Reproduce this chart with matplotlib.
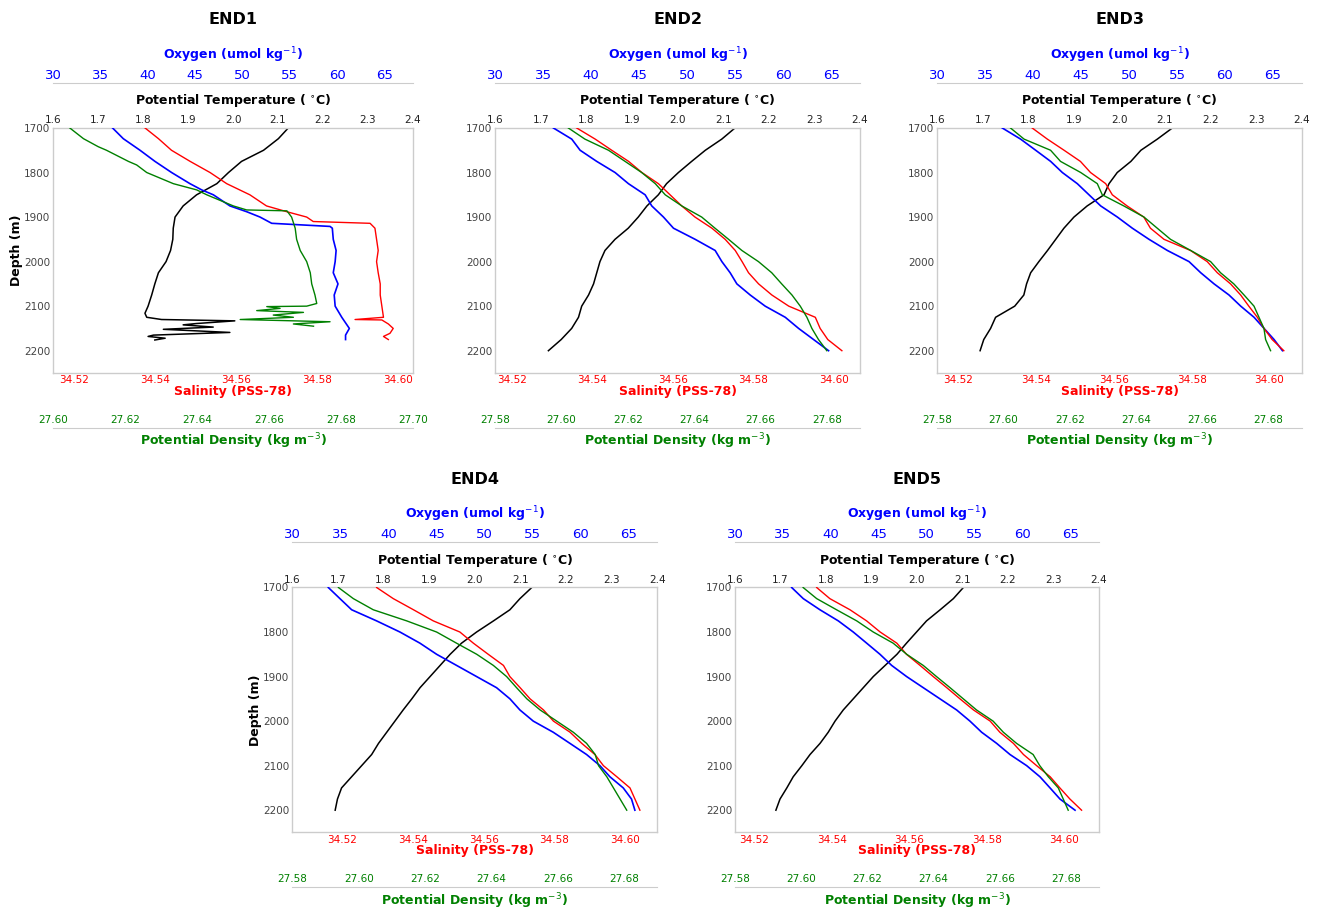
import matplotlib.pyplot as plt
from matplotlib import transforms

# ---- CTD profiles, depth in m ----
depth_grid = [1700, 1725, 1750, 1775, 1800, 1825, 1850, 1875, 1900, 1925, 1950,
              1975, 2000, 2025, 2050, 2075, 2100, 2125, 2150, 2175, 2200]

# END1 (irregular sampling near the bottom)
end1_temp_z = [1700, 1724, 1750, 1775, 1800, 1825, 1850, 1875, 1900, 1925, 1950, 1975, 2000,
               2025, 2050, 2075, 2100, 2116, 2125, 2130, 2133, 2139, 2142, 2147, 2152, 2159,
               2165, 2168, 2172, 2176]
end1_temp = [2.123, 2.101, 2.068, 2.019, 1.990, 1.964, 1.919, 1.889, 1.871, 1.867, 1.866, 1.861,
             1.851, 1.834, 1.826, 1.819, 1.811, 1.804, 1.808, 1.841, 2.004, 1.919, 1.889, 1.956,
             1.845, 1.993, 1.823, 1.811, 1.849, 1.826]
end1_oxy_z = [1700, 1724, 1750, 1775, 1800, 1825, 1839, 1850, 1875, 1888, 1900, 1914, 1921,
              1925, 1950, 1975, 2000, 2025, 2050, 2075, 2100, 2125, 2150, 2165, 2175]
end1_oxy = [36.27, 37.40, 39.17, 40.75, 42.51, 44.45, 45.69, 46.92, 48.68, 50.45, 51.86, 53.09,
            59.26, 59.5, 59.6, 59.9, 59.8, 59.6, 60.1, 59.7, 59.8, 60.5, 61.3, 60.9, 60.9]
end1_sal_z = [1700, 1724, 1750, 1775, 1800, 1825, 1850, 1875, 1888, 1900, 1910, 1914, 1925,
              1950, 1975, 2000, 2025, 2050, 2075, 2100, 2125, 2130, 2131, 2140, 2150, 2161,
              2168, 2175]
end1_sal = [34.5376, 34.5409, 34.5441, 34.5487, 34.5536, 34.5577, 34.5634, 34.5675, 34.5725,
            34.5774, 34.5790, 34.5930, 34.5942, 34.5946, 34.5950, 34.5946, 34.5950, 34.5955,
            34.5955, 34.5959, 34.5963, 34.5893, 34.5959, 34.5975, 34.5987, 34.5979, 34.5963,
            34.5975]
end1_dens_z = [1700, 1724, 1742, 1750, 1775, 1783, 1800, 1825, 1839, 1850, 1875, 1884, 1886,
               1900, 1925, 1950, 1975, 2000, 2025, 2050, 2075, 2094, 2100, 2101, 2105, 2110,
               2114, 2120, 2125, 2130, 2135, 2140, 2145]
end1_dens = [27.6046, 27.6084, 27.6125, 27.6148, 27.6209, 27.6232, 27.6260, 27.6334, 27.6399,
             27.6427, 27.6501, 27.6538, 27.6650, 27.6663, 27.6673, 27.6677, 27.6687, 27.6705,
             27.6715, 27.6719, 27.6728, 27.6733, 27.6705, 27.6594, 27.6631, 27.6566, 27.6696,
             27.6612, 27.6668, 27.6520, 27.6770, 27.6668, 27.6724]

# END2
end2_temp = [2.126, 2.097, 2.061, 2.031, 2.002, 1.976, 1.958, 1.933, 1.914, 1.892, 1.863,
             1.841, 1.830, 1.823, 1.816, 1.805, 1.790, 1.783, 1.768, 1.745, 1.717]
end2_oxy = [36.08, 37.99, 38.86, 40.59, 42.50, 43.89, 45.63, 46.32, 47.54, 48.58, 50.84,
            52.92, 53.62, 54.48, 55.18, 56.57, 58.13, 60.22, 61.61, 63.17, 64.73]
end2_sal = [34.5361, 34.5407, 34.5448, 34.5490, 34.5523, 34.5564, 34.5593, 34.5622, 34.5655,
            34.5697, 34.5730, 34.5755, 34.5772, 34.5788, 34.5813, 34.5846, 34.5888, 34.5954,
            34.5966, 34.5985, 34.6020]
end2_dens = [27.6021, 27.6071, 27.6142, 27.6192, 27.6242, 27.6283, 27.6313, 27.6363, 27.6423,
             27.6463, 27.6504, 27.6544, 27.6594, 27.6634, 27.6664, 27.6695, 27.6720, 27.6740,
             27.6755, 27.6775, 27.6800]

# END3
end3_temp = [2.116, 2.083, 2.047, 2.025, 1.995, 1.977, 1.966, 1.929, 1.900, 1.878, 1.860,
             1.842, 1.823, 1.805, 1.796, 1.790, 1.770, 1.728, 1.717, 1.702, 1.694]
end3_oxy = [36.78, 38.69, 40.26, 41.82, 43.04, 44.60, 45.82, 47.04, 48.78, 50.34, 52.08,
            53.99, 56.25, 57.47, 58.86, 60.42, 61.64, 63.03, 64.07, 65.12, 65.99]
end3_sal = [34.5390, 34.5429, 34.5472, 34.5514, 34.5540, 34.5579, 34.5596, 34.5634, 34.5677,
            34.5694, 34.5729, 34.5797, 34.5840, 34.5866, 34.5900, 34.5926, 34.5947, 34.5969,
            34.5986, 34.6007, 34.6037]
end3_dens = [27.6021, 27.6062, 27.6142, 27.6172, 27.6233, 27.6283, 27.6298, 27.6363, 27.6424,
             27.6464, 27.6504, 27.6565, 27.6625, 27.6655, 27.6695, 27.6726, 27.6756, 27.6771,
             27.6786, 27.6791, 27.6806]

# END4
end4_temp = [2.125, 2.099, 2.077, 2.041, 2.004, 1.971, 1.946, 1.924, 1.902, 1.880, 1.862,
             1.843, 1.825, 1.807, 1.789, 1.774, 1.752, 1.730, 1.708, 1.699, 1.694]
end4_oxy = [33.75, 34.96, 36.18, 38.78, 41.21, 43.29, 45.03, 47.11, 49.19, 51.27, 52.66,
            53.70, 55.09, 57.17, 58.91, 60.64, 62.03, 63.07, 64.46, 65.32, 65.67]
end4_sal = [34.5298, 34.5345, 34.5402, 34.5458, 34.5533, 34.5571, 34.5613, 34.5656, 34.5674,
            34.5703, 34.5731, 34.5769, 34.5797, 34.5844, 34.5877, 34.5914, 34.5938, 34.5976,
            34.6013, 34.6027, 34.6041]
end4_dens = [27.5939, 27.5984, 27.6044, 27.6145, 27.6235, 27.6295, 27.6356, 27.6406, 27.6446,
             27.6476, 27.6507, 27.6547, 27.6597, 27.6647, 27.6687, 27.6713, 27.6723, 27.6748,
             27.6768, 27.6788, 27.6808]

# END5
end5_temp = [2.102, 2.080, 2.051, 2.021, 1.999, 1.977, 1.956, 1.930, 1.904, 1.882, 1.860,
             1.838, 1.820, 1.805, 1.787, 1.765, 1.747, 1.728, 1.714, 1.699, 1.690]
end5_oxy = [35.92, 37.13, 38.87, 40.79, 42.35, 43.75, 45.14, 46.36, 47.92, 49.66, 51.40,
            53.14, 54.53, 55.75, 57.32, 58.71, 60.45, 61.84, 62.89, 63.93, 65.50]
end5_sal = [34.5361, 34.5395, 34.5447, 34.5490, 34.5525, 34.5568, 34.5593, 34.5628, 34.5662,
            34.5697, 34.5731, 34.5766, 34.5809, 34.5834, 34.5869, 34.5895, 34.5929, 34.5964,
            34.5989, 34.6015, 34.6045]
end5_dens = [27.6006, 27.6047, 27.6107, 27.6168, 27.6218, 27.6278, 27.6319, 27.6369, 27.6409,
             27.6450, 27.6490, 27.6530, 27.6580, 27.6611, 27.6651, 27.6701, 27.6721, 27.6747,
             27.6777, 27.6792, 27.6807]

temp_ticks = [1.6, 1.7, 1.8, 1.9, 2.0, 2.1, 2.2, 2.3, 2.4]
oxy_ticks = [30, 35, 40, 45, 50, 55, 60, 65]
sal_ticks = [34.52, 34.54, 34.56, 34.58, 34.60]
dens_ticks_a = [27.60, 27.62, 27.64, 27.66, 27.68, 27.70]
dens_ticks_b = [27.58, 27.60, 27.62, 27.64, 27.66, 27.68]
depth_ticks = [1700, 1800, 1900, 2000, 2100, 2200]

SPINE = '#cccccc'
GREEN = '#008000'

fig = plt.figure(figsize=(13.19, 9.09), dpi=100)


def label(ax, x, y, dx, dy, text, **kw):
    tr = transforms.offset_copy(ax.transAxes, fig=fig, x=dx, y=dy, units='dots')
    ax.text(x, y, text, transform=tr, ha='center', va='center', fontweight='bold', **kw)


def station(rect, name, temp, oxy, sal, dens, sal_lim, dens_lim, dens_ticks, ylabel):
    ax = fig.add_axes(rect)
    ax_o = ax.twiny()
    ax_s = ax.twiny()
    ax_d = ax.twiny()

    # temperature on the main axes, ticks on top
    ax.plot(temp[1], temp[0], color='black', lw=1.1)
    ax.set_xlim(1.6, 2.4)
    ax.set_ylim(2250, 1700)
    ax.xaxis.tick_top()
    ax.set_xticks(temp_ticks)
    ax.set_xticklabels(['%.1f' % v for v in temp_ticks])
    ax.set_yticks(depth_ticks)
    ax.tick_params(axis='x', length=0, labelsize=7.5, pad=2, colors='#222222')
    ax.tick_params(axis='y', length=0, labelsize=7.5, pad=2, colors='#444444')
    for sp in ax.spines.values():
        sp.set_color(SPINE)
        sp.set_linewidth(1.0)

    for tw in (ax_o, ax_s, ax_d):
        for sp in tw.spines.values():
            sp.set_visible(False)

    # oxygen on an offset top axis (outward is in points)
    ax_o.plot(oxy[1], oxy[0], color='blue', lw=1.2)
    ax_o.set_xlim(30, 68)
    ax_o.set_xticks(oxy_ticks)
    ax_o.spines['top'].set_visible(True)
    ax_o.spines['top'].set_position(('outward', 32.4))
    ax_o.spines['top'].set_color(SPINE)
    ax_o.tick_params(axis='x', length=0, labelsize=9.5, pad=1, colors='blue')

    # salinity on the bottom axis
    ax_s.plot(sal[1], sal[0], color='red', lw=1.0)
    ax_s.set_xlim(*sal_lim)
    ax_s.xaxis.set_ticks_position('bottom')
    ax_s.set_xticks(sal_ticks)
    ax_s.set_xticklabels(['%.2f' % v for v in sal_ticks])
    ax_s.tick_params(axis='x', length=0, labelsize=7.5, pad=1.5, colors='red')

    # density on an offset bottom axis, labels sit above its line
    ax_d.plot(dens[1], dens[0], color=GREEN, lw=1.0)
    ax_d.set_xlim(*dens_lim)
    ax_d.xaxis.set_ticks_position('bottom')
    ax_d.set_xticks(dens_ticks)
    ax_d.set_xticklabels(['%.2f' % v for v in dens_ticks])
    ax_d.spines['bottom'].set_visible(True)
    ax_d.spines['bottom'].set_position(('outward', 39.6))
    ax_d.spines['bottom'].set_color(SPINE)
    ax_d.tick_params(axis='x', length=0, labelsize=7.5, pad=-9.5, colors=GREEN)

    label(ax, 0.5, 1, 0, 108, name, fontsize=11.5)
    label(ax, 0.5, 1, 0, 73, 'Oxygen (umol kg$^{-1}$)', fontsize=9, color='blue')
    label(ax, 0.5, 1, 0, 27, 'Potential Temperature ( $^{\\circ}$C)', fontsize=9)
    label(ax, 0.5, 0, 0, -18.5, 'Salinity (PSS-78)', fontsize=9, color='red')
    label(ax, 0.5, 0, 0, -68.5, 'Potential Density (kg m$^{-3}$)', fontsize=9, color=GREEN)
    if ylabel:
        label(ax, 0, 0.5, -37, 0, 'Depth (m)', fontsize=9, rotation=90)


station([0.0404, 0.5897, 0.2725, 0.2695], 'END1',
        (end1_temp_z, end1_temp), (end1_oxy_z, end1_oxy),
        (end1_sal_z, end1_sal), (end1_dens_z, end1_dens),
        (34.515, 34.6035), (27.60, 27.70), dens_ticks_a, True)
station([0.3753, 0.5897, 0.2767, 0.2695], 'END2',
        (depth_grid, end2_temp), (depth_grid, end2_oxy),
        (depth_grid, end2_sal), (depth_grid, end2_dens),
        (34.5158, 34.6065), (27.58, 27.69), dens_ticks_b, False)
station([0.7106, 0.5897, 0.2763, 0.2695], 'END3',
        (depth_grid, end3_temp), (depth_grid, end3_oxy),
        (depth_grid, end3_sal), (depth_grid, end3_dens),
        (34.5146, 34.6083), (27.58, 27.69), dens_ticks_b, False)
station([0.2216, 0.0842, 0.2767, 0.2695], 'END4',
        (depth_grid, end4_temp), (depth_grid, end4_oxy),
        (depth_grid, end4_sal), (depth_grid, end4_dens),
        (34.506, 34.609), (27.58, 27.69), dens_ticks_b, True)
station([0.5572, 0.0842, 0.2760, 0.2695], 'END5',
        (depth_grid, end5_temp), (depth_grid, end5_oxy),
        (depth_grid, end5_sal), (depth_grid, end5_dens),
        (34.515, 34.609), (27.58, 27.69), dens_ticks_b, False)

fig.savefig('out.png', dpi=100)
